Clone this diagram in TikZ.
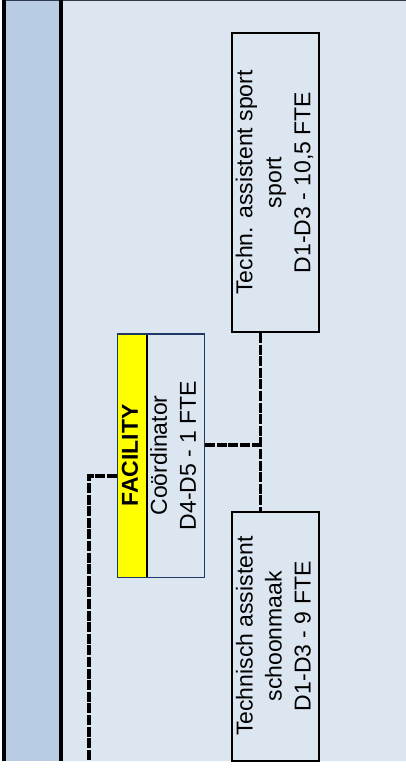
\documentclass[tikz,border=0pt]{standalone}
\usepackage{fontspec}
\setmainfont{Liberation Sans}
\usepackage{graphicx}
\definecolor{colbg}{HTML}{B8CCE4}
\definecolor{mainbg}{HTML}{DCE6F1}
\definecolor{topline}{HTML}{2F3B4C}
\definecolor{navy}{HTML}{1F3864}
\definecolor{yel}{HTML}{FFFF00}
\newcommand{\rtext}[1]{\rotatebox{90}{\begin{tabular}{@{}c@{}}#1\end{tabular}}}
\begin{document}
\begin{tikzpicture}[x=1pt,y=-1pt,
  box/.style={draw=black, line width=2pt, inner sep=0pt, font=\fontsize{23}{29}\selectfont},
  coordbox/.style={draw=navy, line width=1.5pt, inner sep=0pt, font=\fontsize{23}{29}\selectfont},
  conn/.style={draw=black, line width=3.2pt, dash pattern=on 10pt off 1.6pt},
  frameline/.style={draw=black, line width=3.5pt}]
\useasboundingbox (0,0) rectangle (406,770);
% backgrounds
\fill[colbg] (6,1.5) rectangle (59,761);
\fill[mainbg] (62,1.5) rectangle (406,761);
\draw[topline, line width=1.5pt] (2,0.75) -- (406,0.75);
\draw[frameline, line width=4pt] (4,0) -- (4,761);
\draw[frameline] (60.75,0) -- (60.75,761);
% yellow strip of coordinator
\fill[yel] (118,333) rectangle (147,578);
\draw[black, line width=1.5pt] (147,333) -- (147,578);
% boxes
\node[box, minimum width=85pt, minimum height=299pt] (sport) at (275.5,182.5)
  {\rtext{Techn. assistent sport\\ sport\\ D1-D3 - 10,5 FTE}};
\node[box, minimum width=85.5pt, minimum height=248.5pt] (school) at (275.75,636.25)
  {\rtext{Technisch assistent\\ schoonmaak\\ D1-D3 - 9 FTE}};
\node[coordbox, minimum width=84.5pt, minimum height=243.5pt] (coord) at (161,455.5)
  {\rtext{\textbf{FACILITY}\\ Coördinator\\ D4-D5 - 1 FTE}};
% connectors
\coordinate (j) at (260.5,445);
\coordinate (lc) at (89,476);
\coordinate (lb) at (89,761);
\draw[conn] (sport.south -| j) -- (school.north -| j);
\draw[conn] (coord.east |- j) -- (j);
\draw[conn] (coord.west |- lc) -- (lc) -- (lb);
\end{tikzpicture}
\end{document}
